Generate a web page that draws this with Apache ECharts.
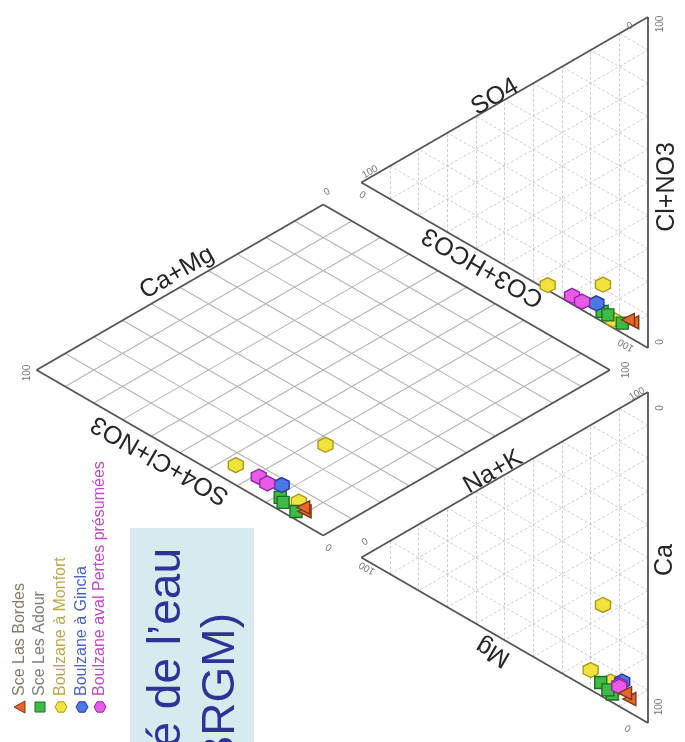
<!DOCTYPE html>
<html><head><meta charset="utf-8">
<script src="https://cdn.jsdelivr.net/npm/echarts@6/dist/echarts.min.js"></script>
<style>html,body{margin:0;padding:0;background:#fff}#c{width:685px;height:742px}</style>
</head><body><div id="c"></div>
<script>
// ---- data (percent) ----
const seriesNames = ['Sce Las Bordes','Sce Les Adour','Boulzane à Monfort','Boulzane à Gincla','Boulzane aval Pertes présumées'];
// cations: [Ca, Mg, Na+K]
const lasBordesCations = [[89.5,6.5,4],[87,8,5]];
const adourCations     = [[79.5,16.5,4],[85,12.5,2.5],[83,14,3]];
const monfortCations   = [[56.5,15.7,27.8],[74,20,6],[81,13,6]];
const ginclaCations    = [[83,9,8]];
const avalCations      = [[83.5,10,6.5],[84,10,6]];
// anions: [CO3+HCO3, SO4, Cl+NO3]
const lasBordesAnions = [[89.5,5.5,5],[88,7,5]];
const adourAnions     = [[81,16,3],[88,9,3],[83,14,3]];
const monfortAnions   = [[73,15.7,11.3],[63.5,35,1.5],[85.5,12,2.5]];
const ginclaAnions    = [[77.5,18,4.5]];
const avalAnions      = [[71,26.5,2.5],[74.5,23,2.5]];
const gridSteps = [10,20,30,40,50,60,70,80,90];

// ---- geometry (standard Piper units, triangle side = 1) ----
const H = Math.sqrt(3)/2, G = 0.133;
const P = (x,y) => [y, x]; // x-axis carries std y, y-axis carries std x (diagram rotated)
function cat(c){const mg=c[1]/100, na=c[2]/100; return P(na+mg/2, H*mg);}
function an(a){const so=a[1]/100, cl=a[2]/100; return P(1+G+cl+so/2, H*so);}
function dia(c,a){const k=c[2]/100, h=a[0]/100, t=2+G-h-k; return P(k+t/2, H*t);}
function pts(cs,as){const o=[];cs.forEach(c=>o.push(cat(c)));as.forEach(a=>o.push(an(a)));cs.forEach((c,i)=>o.push(dia(c,as[i])));return o;}

function triGrid(ox){
  const s=[];
  gridSteps.forEach(p=>{const f=p/100;
    s.push([P(ox+f/2,H*f),P(ox+1-f/2,H*f)]);
    s.push([P(ox+f,0),P(ox+f+(1-f)/2,H*(1-f))]);
    s.push([P(ox+f,0),P(ox+f/2,H*f)]);
  });return s;}
function triBorder(ox){return [[P(ox,0),P(ox+1,0)],[P(ox+1,0),P(ox+0.5,H)],[P(ox+0.5,H),P(ox,0)]];}
const dB=[1+G/2,H*G], dL=[(1+G)/2,H*(1+G)], dT=[1+G/2,H*(2+G)], dR=[1+(1+G)/2,H*(1+G)];
function diaGrid(){const s=[];gridSteps.forEach(p=>{const f=p/100;
  const a=[dB[0]+f*(dR[0]-dB[0]),dB[1]+f*(dR[1]-dB[1])];
  s.push([P(a[0],a[1]),P(a[0]+dL[0]-dB[0],a[1]+dL[1]-dB[1])]);
  const b=[dB[0]+f*(dL[0]-dB[0]),dB[1]+f*(dL[1]-dB[1])];
  s.push([P(b[0],b[1]),P(b[0]+dR[0]-dB[0],b[1]+dR[1]-dB[1])]);
 });return s;}
const diaBorder=[[P(...dB),P(...dL)],[P(...dL),P(...dT)],[P(...dT),P(...dR)],[P(...dR),P(...dB)]];

function linesSeries(segs,color,width,type,z){return {type:'lines',coordinateSystem:'cartesian2d',polyline:false,silent:true,z:z,
  lineStyle:{color:color,width:width,type:type,opacity:1},data:segs.map(s=>({coords:s}))};}

const hex='path://M0,-10L8.66,-5L8.66,5L0,10L-8.66,5L-8.66,-5Z';
const styles=[
 {sym:'triangle',rot:90,size:13,fill:'#e8662a',bd:'#7a3a12'},
 {sym:'rect',rot:0,size:12,fill:'#3dbb45',bd:'#1c6e22'},
 {sym:hex,rot:0,size:15,fill:'#f1e23c',bd:'#a89a1e'},
 {sym:hex,rot:0,size:15,fill:'#4a78e6',bd:'#28389a'},
 {sym:hex,rot:0,size:15,fill:'#ea5ae8',bd:'#8a2aa0'}];
const dataSets=[pts(lasBordesCations,lasBordesAnions),pts(adourCations,adourAnions),pts(monfortCations,monfortAnions),pts(ginclaCations,ginclaAnions),pts(avalCations,avalAnions)];
const drawOrder=[2,1,3,4,0];
const scatter=drawOrder.map(i=>({type:'scatter',name:seriesNames[i],data:dataSets[i],symbol:styles[i].sym,symbolSize:styles[i].size,symbolRotate:styles[i].rot,z:10,
  itemStyle:{color:styles[i].fill,borderColor:styles[i].bd,borderWidth:1.4,opacity:1}}));

// ---- text helpers ----
const FF='"Liberation Sans", Arial, sans-serif';
function T(x,y,s,deg,size,color,extra){return Object.assign({type:'text',x:x,y:y,rotation:deg*Math.PI/180,z:20,
  style:{text:s,font:size+'px '+FF,fill:color,align:'center',verticalAlign:'middle',textAlign:'center',textVerticalAlign:'middle'}},extra||{});}
const graphics=[
 {type:'rect',shape:{x:130,y:528,width:124,height:214},style:{fill:'#d7ebee'},z:1},
 {type:'text',x:167,y:548,rotation:Math.PI/2,z:5,style:{text:'é de l’eau',font:'46px '+FF,fill:'#2e3397',align:'right',verticalAlign:'middle',textAlign:'right',textVerticalAlign:'middle'}},
 {type:'text',x:221,y:613,rotation:Math.PI/2,z:5,style:{text:'BRGM)',font:'46px '+FF,fill:'#2e3397',align:'right',verticalAlign:'middle',textAlign:'right',textVerticalAlign:'middle'}},
 T(177,273,'Ca+Mg',30,25,'#262626'),
 T(160,460,'SO4+Cl+NO3',150,25,'#262626'),
 T(495,97,'SO4',30,25,'#262626'),
 T(483,267,'CO3+HCO3',150,25,'#262626'),
 T(667,187,'Cl+NO3',90,25,'#262626'),
 T(493,472,'Na+K',30,25,'#262626'),
 T(493,652,'Mg',150,25,'#262626'),
 T(665,560,'Ca',90,25,'#262626'),
 // tick labels
 T(637,394,'100',30,10,'#777'), T(660,408,'0',90,10,'#777'), T(659,707,'100',90,10,'#777'), T(628,728,'0',150,10,'#777'),
 T(365,542,'0',30,10,'#777'), T(367,568,'100',150,10,'#777'),
 T(630,26,'0',30,10,'#777'), T(660,24,'100',90,10,'#777'), T(370,172,'100',30,10,'#777'), T(363,194,'0',150,10,'#777'),
 T(626,345,'100',150,10,'#777'), T(660,342,'0',90,10,'#777'),
 T(327,192,'0',30,10,'#777'), T(27,373,'100',90,10,'#777'), T(329,547,'0',150,10,'#777'), T(626,370,'100',90,10,'#777')
];
// legend (rotated group)
const legColors=['#8a7a68','#7d8078','#bca84a','#4a66c2','#c24cc4'];
const legOff=[0,20,41,62,80];
const legChildren=[];
legOff.forEach((d,i)=>{
  const st=styles[i];
  if(i===0) legChildren.push({type:'polygon',shape:{points:[[0,d-6],[6,d+5],[-6,d+5]]},style:{fill:st.fill,stroke:st.bd,lineWidth:1}});
  else if(i===1) legChildren.push({type:'rect',shape:{x:-5,y:d-5,width:10,height:10},style:{fill:st.fill,stroke:st.bd,lineWidth:1}});
  else {const r=6,p=[];for(let k=0;k<6;k++){const a=Math.PI/6+k*Math.PI/3;p.push([r*Math.cos(a),d+r*Math.sin(a)]);}
        legChildren.push({type:'polygon',shape:{points:p},style:{fill:st.fill,stroke:st.bd,lineWidth:1}});}
  legChildren.push({type:'text',x:11,y:d,style:{text:seriesNames[i],font:'16px '+FF,fill:legColors[i],align:'left',verticalAlign:'middle',textAlign:'left',textVerticalAlign:'middle'}});
});
graphics.push({type:'group',x:20,y:707,rotation:Math.PI/2,z:20,children:legChildren});

const option={animation:false,
 grid:{left:0,right:0,top:0,bottom:0,containLabel:false},
 xAxis:{type:'value',inverse:true,min:-37/331,max:648/331,show:false},
 yAxis:{type:'value',min:-19/331,max:723/331,show:false},
 series:[
  linesSeries(triGrid(0).concat(triGrid(1+G)),'#c8c8c8',0.9,[3,2],2),
  linesSeries(diaGrid(),'#b4b4b4',1.1,'solid',2),
  linesSeries(triBorder(0).concat(triBorder(1+G),diaBorder),'#555',1.8,'solid',3)
 ].concat(scatter),
 graphic:graphics};
const chart=echarts.init(document.getElementById('c'),null,{renderer:'canvas'});
chart.setOption(option);
</script></body></html>
